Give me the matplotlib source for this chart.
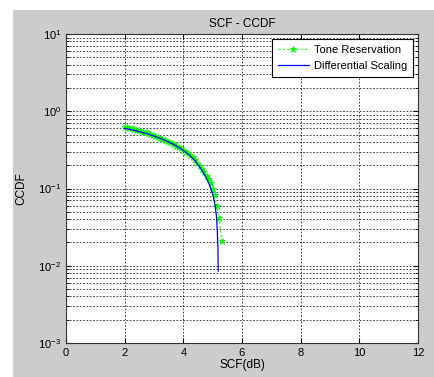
import matplotlib
matplotlib.use("Agg")
import matplotlib.pyplot as plt
from matplotlib.patches import Rectangle

plt.rcParams['font.family'] = ['Liberation Sans', 'DejaVu Sans']

# Tone Reservation (green dashed with star markers)
tr_x = [2.00, 2.08, 2.16, 2.24, 2.32, 2.40, 2.48, 2.56, 2.64, 2.72, 2.80, 2.88,
        2.96, 3.04, 3.12, 3.20, 3.28, 3.36, 3.44, 3.52, 3.60, 3.68, 3.76, 3.84,
        3.92, 4.00, 4.08, 4.16, 4.24, 4.32, 4.40, 4.48, 4.56, 4.64, 4.72, 4.80,
        4.88, 4.95, 5.01, 5.08, 5.14, 5.22, 5.31]
tr_y = [0.630, 0.620, 0.610, 0.600, 0.590, 0.580, 0.570, 0.558, 0.546, 0.534,
        0.522, 0.510, 0.497, 0.484, 0.470, 0.456, 0.442, 0.428, 0.414, 0.400,
        0.386, 0.372, 0.358, 0.344, 0.330, 0.316, 0.300, 0.284, 0.268, 0.252,
        0.234, 0.216, 0.198, 0.180, 0.163, 0.147, 0.132, 0.118, 0.100, 0.082,
        0.060, 0.042, 0.021]

# Differential Scaling (blue solid)
ds_x = [2.00, 2.25, 2.50, 2.75, 3.00, 3.25, 3.50, 3.75, 4.00, 4.20, 4.40,
        4.60, 4.75, 4.90, 5.00, 5.08, 5.13, 5.16, 5.18, 5.19]
ds_y = [0.600, 0.575, 0.545, 0.512, 0.478, 0.440, 0.400, 0.358, 0.312, 0.272,
        0.228, 0.180, 0.145, 0.110, 0.085, 0.062, 0.043, 0.028, 0.016, 0.0085]

x_ticks = [0, 2, 4, 6, 8, 10, 12]

fig = plt.figure(figsize=(4.35, 3.77), dpi=100, facecolor='white')
# MATLAB-style gray figure panel
fig.patches.append(Rectangle((13 / 435, 0), 1 - 13 / 435, 1 - 10 / 377,
                             transform=fig.transFigure, facecolor='#cccccc',
                             edgecolor='none', zorder=-10))

ax = fig.add_axes([66 / 435, 1 - 343 / 377, (418 - 66) / 435, (343 - 34) / 377])
ax.set_facecolor('white')

ax.semilogy(tr_x, tr_y, linestyle='--', color='#00ff00', marker='*',
            markersize=5, markeredgewidth=0.6, linewidth=0.8,
            dashes=(2, 2), label='Tone Reservation')
ax.semilogy(ds_x, ds_y, linestyle='-', color='#0000ff', linewidth=0.9,
            label='Differential Scaling')

ax.set_xlim(0, 12)
ax.set_ylim(1e-3, 1e1)
ax.set_xticks(x_ticks)
ax.grid(True, which='major', axis='x', linestyle=(0, (2, 2)), color='#222222', linewidth=0.6)
ax.grid(True, which='both', axis='y', linestyle=(0, (2, 2)), color='#222222', linewidth=0.6)
ax.tick_params(which='both', direction='in', labelsize=8, top=True, right=True)

for s in ax.spines.values():
    s.set_linewidth(0.8)
    s.set_color('#333333')

ax.set_title('SCF - CCDF', fontsize=8.5, pad=5)
ax.set_xlabel('SCF(dB)', fontsize=8.5, labelpad=1)
ax.set_ylabel('CCDF', fontsize=8.5, labelpad=8)

leg = ax.legend(loc='upper right', fontsize=8, fancybox=False, framealpha=1,
                edgecolor='black', borderaxespad=0.45, handlelength=2.8,
                labelspacing=0.6, borderpad=0.5, handletextpad=0.5)
leg.get_frame().set_linewidth(0.8)

fig.savefig('out.png', dpi=100, facecolor=fig.get_facecolor())
